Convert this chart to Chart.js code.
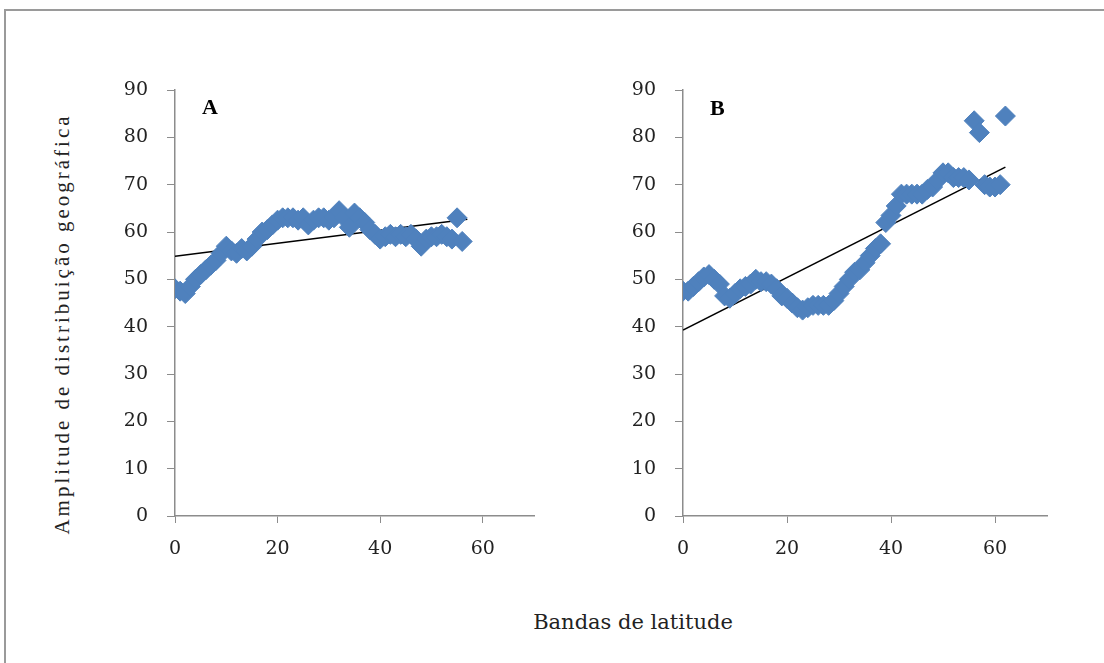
<!DOCTYPE html>
<html>
<head>
<meta charset="utf-8">
<script src="https://cdn.jsdelivr.net/npm/chart.js@4"></script>
<style>
  html, body { margin: 0; padding: 0; background: #fff; }
  body { width: 1104px; height: 663px; position: relative; overflow: hidden; }
  .frame { position: absolute; left: 4px; top: 9px; width: 1110px; height: 670px;
           border-top: 2px solid #9a9a9a; border-left: 2px solid #9a9a9a; }
  .box { position: absolute; }
  .letter { position: absolute; font: bold 22px "Liberation Serif", serif; color: #000; }
  .ytitle { position: absolute; left: 62px; top: 324px; transform: translate(-50%, -50%) rotate(-90deg);
            white-space: nowrap; font: 21px "Liberation Serif", serif; letter-spacing: 3px; color: #222; }
  .xtitle { position: absolute; left: 633px; top: 622px; transform: translate(-50%, -50%);
            white-space: nowrap; font: 21px "DejaVu Serif", serif; color: #222; }
</style>
</head>
<body>
<div class="frame"></div>
<div class="box" style="left:90px;top:70px;width:460px;height:510px;"><canvas id="chartA"></canvas></div>
<div class="box" style="left:598px;top:70px;width:470px;height:510px;"><canvas id="chartB"></canvas></div>
<div class="letter" style="left:202px;top:94px;">A</div>
<div class="letter" style="left:710px;top:95px;">B</div>
<div class="ytitle">Amplitude de distribuição geográfica</div>
<div class="xtitle">Bandas de latitude</div>

<script>
// Panel A - latitude band vs. distribution range
const bandsA = [0, 1, 2, 3, 4, 5, 6, 7, 8, 9, 10, 11, 12, 13, 14, 15, 16, 17, 18, 19,
  20, 21, 22, 23, 24, 25, 26, 27, 28, 29, 30, 31, 32, 33, 34, 35, 36, 37, 38, 39,
  40, 41, 42, 43, 44, 45, 46, 47, 48, 49, 50, 51, 52, 53, 54, 55, 56];
const rangeA = [48, 47.5, 47, 48.5, 50, 51, 52, 53, 54, 55.5, 57, 56, 55.5, 56.5, 56, 57, 58.5, 60, 60.5, 61.5,
  62.5, 63, 63, 63, 62.5, 63, 61.5, 62.5, 63, 63, 62.5, 63, 64.5, 63, 61, 64, 63, 62, 60.5, 59.5,
  58.5, 59, 59.5, 59, 59.5, 59, 59.5, 58.5, 57, 58.5, 59, 59, 59.5, 59, 58.5, 63, 58];

// Panel B
const bandsB = [0, 1, 2, 3, 4, 5, 6, 7, 8, 9, 10, 11, 12, 13, 14, 15, 16, 17, 18, 19,
  20, 21, 22, 23, 24, 25, 26, 27, 28, 29, 30, 31, 32, 33, 34, 35, 36, 37, 38, 39,
  40, 41, 42, 43, 44, 45, 46, 47, 48, 49, 50, 51, 52, 53, 54, 55, 56, 57, 58, 59,
  60, 61, 62];
const rangeB = [47.5, 47.5, 48.5, 49.5, 50.5, 51, 50, 49, 46.5, 46, 47, 48, 48.5, 49, 50, 49.5, 49.5, 49, 48, 46.5,
  46, 45, 44, 43.5, 44, 44.5, 44.5, 44.5, 44.5, 45.5, 47, 48.5, 50, 51.5, 52, 53.5, 55, 56.5, 57.5, 62,
  63.5, 65.5, 68, 68, 68, 68, 68, 69, 69.5, 71, 72.5, 72.5, 71.5, 71.5, 71.5, 71, 83.5, 81, 70, 69.5,
  69.5, 70, 84.5];

// linear trend lines (end points)
const trendAX = [0, 57];
const trendAY = [54.9, 62.7];
const trendBX = [0, 62];
const trendBY = [39.3, 73.7];

const yTicks = [0, 10, 20, 30, 40, 50, 60, 70, 80, 90];
const xTicks = [0, 20, 40, 60];

const pointColor = '#4F81BD';
const axisColor = '#8c8c8c';
const tickFont = { family: 'DejaVu Serif', size: 19 };

function toPoints(xs, ys) {
  return xs.map((x, i) => ({ x: x, y: ys[i] }));
}

function makeChart(id, xs, ys, tx, ty, padRight) {
  const ctx = document.getElementById(id).getContext('2d');
  return new Chart(ctx, {
    type: 'scatter',
    data: {
      datasets: [{
        data: toPoints(xs, ys),
        backgroundColor: pointColor,
        borderColor: pointColor,
        pointStyle: 'rectRot',
        pointRadius: 10,
        borderWidth: 1
      }, {
        type: 'line',
        data: toPoints(tx, ty),
        borderColor: '#000',
        borderWidth: 1.5,
        pointRadius: 0,
        fill: false
      }]
    },
    options: {
      responsive: true,
      maintainAspectRatio: false,
      animation: false,
      layout: { padding: { left: 10, top: 20, right: padRight, bottom: 0 } },
      plugins: { legend: { display: false }, tooltip: { enabled: false } },
      scales: {
        x: {
          type: 'linear',
          min: 0,
          max: 70,
          afterBuildTicks: s => { s.ticks = xTicks.map(v => ({ value: v })); },
          afterFit: s => { s.height = 64; s.paddingLeft = 0; s.paddingRight = 0; },
          grid: { drawOnChartArea: false, drawTicks: true, tickLength: 7, color: axisColor },
          border: { color: axisColor, width: 1.5 },
          ticks: { color: '#222', font: tickFont, padding: 15, maxRotation: 0 }
        },
        y: {
          min: 0,
          max: 90,
          afterBuildTicks: s => { s.ticks = yTicks.map(v => ({ value: v })); },
          afterFit: s => { s.width = 75; s.paddingTop = 0; s.paddingBottom = 0; },
          grid: { drawOnChartArea: false, drawTicks: true, tickLength: 8, color: axisColor },
          border: { color: axisColor, width: 1.5 },
          ticks: { color: '#222', font: tickFont, padding: 19 }
        }
      }
    }
  });
}

makeChart('chartA', bandsA, rangeA, trendAX, trendAY, 16);
makeChart('chartB', bandsB, rangeB, trendBX, trendBY, 21);
</script>
</body>
</html>
